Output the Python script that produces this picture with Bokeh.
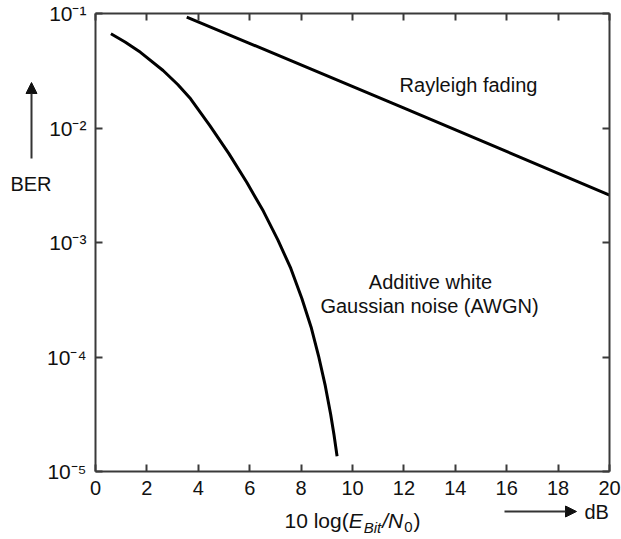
from bokeh.plotting import figure
from bokeh.models import (LinearAxis, LogAxis, FixedTicker, Range1d, Label,
                          Arrow, NormalHead)
from bokeh.embed import file_html
from bokeh.resources import INLINE

# ---------------- data ----------------
x_ticks = [0, 2, 4, 6, 8, 10, 12, 14, 16, 18, 20]
x_tick_labels = [str(v) for v in x_ticks]
y_ticks = [1e-5, 1e-4, 1e-3, 1e-2, 1e-1]
y_tick_labels = ["10\u207b\u2075", "10\u207b\u2074", "10\u207b\u00b3",
                 "10\u207b\u00b2", "10\u207b\u00b9"]

awgn_ebn0 = [0.6, 1.15, 1.75, 2.63, 3.2, 3.7, 4.45, 5.19, 5.89, 6.53, 7.10,
             7.60, 8.03, 8.39, 8.68, 8.94, 9.15, 9.28, 9.4]
awgn_ber = [0.0665, 0.0564, 0.0458, 0.0318, 0.0240, 0.0180, 0.01047, 0.00597,
            0.00334, 0.00188, 0.00105, 0.000593, 0.000324, 0.000182,
            0.000102, 5.62e-5, 3.16e-5, 2.09e-5, 1.36e-5]

rayleigh_ebn0 = [3.55, 11.87, 20.0]
rayleigh_ber = [0.093, 0.0154, 0.00259]

# ---------------- layout ----------------
W, H = 621, 539
FL, FR, FT, FB = 95, 609, 13, 471      # plotting box in canvas pixels
X0, X1 = 0, 20
Y0, Y1 = 1e-5, 1e-1
FONT = "Liberation Sans"
AXC = "#3a3a3a"
TXT = "#111111"


def dx(px):
    return X0 + (px - FL) / (FR - FL) * (X1 - X0)


def dy(py):
    return 10 ** (-1 - (py - FT) / (FB - FT) * 4)


p = figure(width=W, height=H, output_backend="svg", toolbar_location=None,
           x_range=Range1d(dx(0), dx(W)), y_range=Range1d(dy(H), dy(0)),
           y_axis_type="log", x_axis_location=None, y_axis_location=None,
           min_border=0)
p.outline_line_color = None
for g in list(p.xgrid) + list(p.ygrid):
    g.visible = False
p.background_fill_color = "white"
p.border_fill_color = "white"


def style_axis(ax, labels=True):
    ax.axis_line_color = AXC
    ax.axis_line_width = 2
    ax.major_tick_line_color = AXC
    ax.major_tick_line_width = 2
    ax.major_tick_in = 7
    ax.major_tick_out = 0
    ax.minor_tick_line_color = None
    ax.major_label_text_font = FONT
    ax.major_label_text_color = TXT
    if labels:
        ax.major_label_text_font_size = "20px"
        ax.major_label_standoff = 9
    else:
        ax.major_label_text_font_size = "1px"
        ax.major_label_standoff = 0


xa = LinearAxis(ticker=FixedTicker(ticks=x_ticks, minor_ticks=[]),
                major_label_overrides=dict(zip(x_ticks, x_tick_labels)),
                fixed_location=Y0, bounds=(X0, X1))
style_axis(xa)
p.add_layout(xa, "below")

ya = LogAxis(ticker=FixedTicker(ticks=y_ticks, minor_ticks=[]),
             major_label_overrides=dict(zip(y_ticks, y_tick_labels)),
             fixed_location=X0, bounds=(Y0, Y1))
style_axis(ya)
ya.major_label_text_font_size = "21px"
p.add_layout(ya, "left")

top = LinearAxis(ticker=FixedTicker(ticks=x_ticks, minor_ticks=[]),
                 major_label_overrides={t: "" for t in x_ticks},
                 fixed_location=Y1, bounds=(X0, X1))
style_axis(top, labels=False)
p.add_layout(top, "above")

right = LogAxis(ticker=FixedTicker(ticks=y_ticks, minor_ticks=[]),
                major_label_overrides={t: "" for t in y_ticks},
                fixed_location=X1, bounds=(Y0, Y1))
style_axis(right, labels=False)
p.add_layout(right, "right")

# ---------------- curves ----------------
p.line(awgn_ebn0, awgn_ber, line_color="black", line_width=3,
       line_join="round")
p.line(rayleigh_ebn0, rayleigh_ber, line_color="black", line_width=3)


# ---------------- annotations ----------------
def lab(px, py, text, size="20px", align="center", baseline="middle",
        style="normal"):
    p.add_layout(Label(x=dx(px), y=dy(py), text=text, text_font=FONT,
                       text_font_size=size, text_align=align,
                       text_baseline=baseline, text_font_style=style,
                       text_color=TXT))


lab(468, 84, "Rayleigh fading")
lab(430, 281, "Additive white")
lab(429, 305, "Gaussian noise (AWGN)")
lab(30.5, 183, "BER")
lab(584, 511, "dB", align="left")

# BER arrow (upwards) and dB arrow (rightwards)
for (x0, y0, x1, y1) in [(31, 158, 31, 82), (504, 511, 576, 511)]:
    p.add_layout(Arrow(end=NormalHead(size=11, fill_color=TXT,
                                      line_color=TXT, line_width=1),
                       x_start=dx(x0), y_start=dy(y0),
                       x_end=dx(x1), y_end=dy(y1),
                       line_color="#333333", line_width=2))

# x-axis title: 10 log(E_Bit / N_0), built from pieces
ARIAL = {'1': 556, '0': 556, ' ': 278, 'l': 222, 'o': 556, 'g': 556, '(': 333,
         ')': 333, 'E': 667, 'B': 667, 'i': 222, 't': 278, '/': 278, 'N': 722}


def tw(s, size):
    return sum(ARIAL[c] for c in s) / 1000 * size


MID = 520
pieces = [("10 log(", 21, "normal", 0, 0),
          ("E", 21, "italic", 0, 1),
          ("Bit", 15, "italic", 6.5, 1),
          ("/N", 21, "italic", 0, 1),
          ("0", 15, "normal", 6.5, 1),
          (")", 21, "normal", 0, 0)]
cx = 284
for txt, sz, st, drop, gap in pieces:
    lab(cx, MID + drop, txt, size=f"{sz}px", align="left",
        baseline="middle", style=st)
    cx += tw(txt, sz) + gap

open("out.html", "w").write(file_html(p, INLINE))
